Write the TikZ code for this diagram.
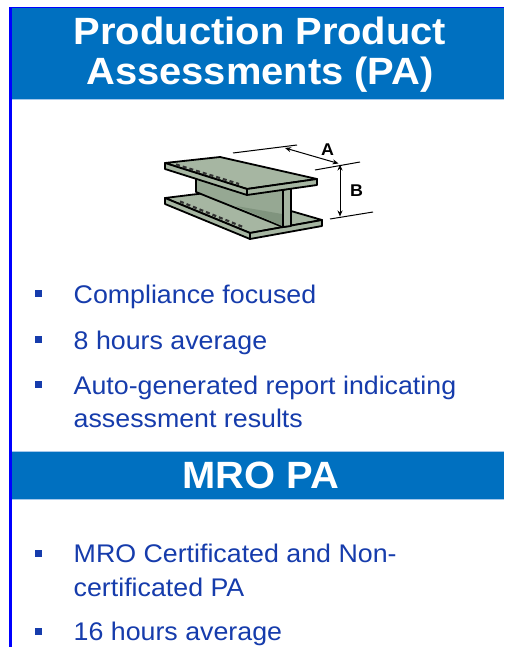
\documentclass[tikz,border=0pt]{standalone}
\usepackage{fontspec}
\setmainfont{Liberation Sans}[FakeStretch=1.05]
\usetikzlibrary{arrows.meta}
\definecolor{hdrblue}{RGB}{0,112,192}
\definecolor{edgeblue}{RGB}{0,0,255}
\definecolor{txtblue}{RGB}{22,60,172}
\definecolor{lineblue}{RGB}{165,200,235}
\definecolor{steel}{RGB}{166,182,162}
\definecolor{steelweb}{RGB}{150,168,147}
\definecolor{steeldark}{RGB}{128,148,126}
\tikzset{
  title/.style={text=white, font=\fontsize{38}{40}\selectfont\bfseries, inner sep=0pt},
  body/.style={text=txtblue, font=\fontsize{25.5}{33}\selectfont, inner sep=0pt},
  bul/.style={fill=txtblue, minimum size=7pt, inner sep=0pt, outer sep=0pt},
  beam/.style={draw=black, line width=1.8pt, line join=round, fill=steel},
  rivets/.style={draw=black!80, line width=2.2pt, dash pattern=on 4pt off 3pt},
  dimline/.style={draw=black, line width=1pt},
  dimarrow/.style={draw=black, line width=1pt, {Stealth[length=6pt,width=5pt]}-{Stealth[length=6pt,width=5pt]}},
  dimlabel/.style={font=\fontsize{17}{17}\selectfont\bfseries, inner sep=0pt}
}
\begin{document}
\begin{tikzpicture}[x=1pt, y=-1pt]
\useasboundingbox (0,0) rectangle (504,647);
\fill[white] (0,0) rectangle (504,647);
% frame
\fill[edgeblue] (8.5,6.7) rectangle (504,8);
\fill[edgeblue] (8.5,6.7) rectangle (12,647);
% header 1
\fill[hdrblue] (12,8) rectangle (504,99);
\draw[lineblue, line width=1pt] (12,99.5) -- (504,99.5);
\node[title, anchor=base] (t1) at (260,45) {Production Product};
\node[title, anchor=base] (t2) at (260,85) {Assessments (PA)};
% header 2
\fill[hdrblue] (12,452) rectangle (504,499);
\draw[lineblue, line width=1pt] (12,451.5) -- (504,451.5);
\draw[lineblue, line width=1pt] (12,499.5) -- (504,499.5);
\node[title, anchor=base] (mro) at (261,488.5) {MRO PA};

% I-beam: bottom flange
\filldraw[beam] (165,198) -- (222,191) -- (322,220) -- (250,233) -- cycle;
\filldraw[beam] (165,198) -- (250,233) -- (250,239) -- (165,204) -- cycle;
\filldraw[beam] (250,233) -- (322,220) -- (322,226) -- (250,239) -- cycle;
\draw[rivets] (180,201.5) -- (243,227);
% web
\filldraw[beam, fill=steelweb] (196,163) -- (283,190) -- (283,227) -- (196,192) -- cycle;
\fill[steeldark] (236,206) -- (282,214) -- (282,226) -- cycle;
\filldraw[beam] (283,190) -- (291,188) -- (291,226) -- (283,227) -- cycle;
% top flange
\filldraw[beam] (165,163) -- (220,157) -- (317,179) -- (247,189) -- cycle;
\filldraw[beam] (165,163) -- (247,189) -- (247,195) -- (165,169) -- cycle;
\filldraw[beam] (247,189) -- (317,179) -- (317,185) -- (247,195) -- cycle;
\draw[rivets] (176,164.5) -- (239,184);

% dimensions
\coordinate (e1a) at (233,153);
\coordinate (e1b) at (297,145);
\coordinate (e2a) at (315,170);
\coordinate (e2b) at (360,162);
\coordinate (e3a) at (330,219);
\coordinate (e3b) at (373,212);
\coordinate (aA) at (285,148);
\coordinate (aB) at (338.5,163.5);
\coordinate (bA) at (340,164.5);
\coordinate (bB) at (340,216.5);
\draw[dimline] (e1a) -- (e1b);
\draw[dimline] (e2a) -- (e2b);
\draw[dimline] (e3a) -- (e3b);
\draw[dimarrow] (aA) -- (aB);
\draw[dimarrow] (bA) -- (bB);
\node[dimlabel] (labA) at (327.5,149.5) {A};
\node[dimlabel] (labB) at (356.5,191) {B};

% bullets section 1
\node[bul] (s1) at (38,293.5) {};
\node[body, anchor=base west] (l1) at (73.5,303) {Compliance focused};
\node[bul] (s2) at (38,339.5) {};
\node[body, anchor=base west] (l2) at (73.5,349) {8 hours average};
\node[bul] (s3) at (38,384.5) {};
\node[body, anchor=base west] (l3) at (73.5,394) {Auto-generated report indicating};
\node[body, anchor=base west] (l3b) at (73.5,427) {assessment results};

% bullets section 2
\node[bul] (s4) at (38,553) {};
\node[body, anchor=base west] (l4) at (73.5,562.5) {MRO Certificated and Non-};
\node[body, anchor=base west] (l4b) at (73.5,596) {certificated PA};
\node[bul] (s5) at (38,631) {};
\node[body, anchor=base west] (l5) at (73.5,640) {16 hours average};
\end{tikzpicture}
\end{document}
